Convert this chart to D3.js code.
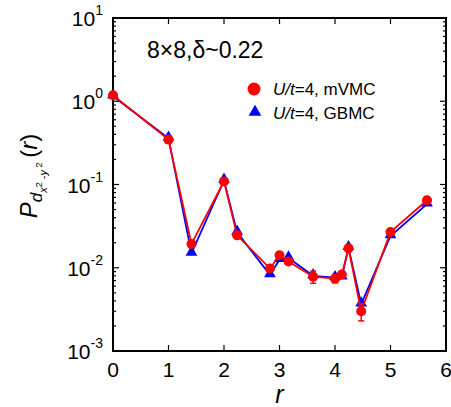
<!DOCTYPE html>
<html><head><meta charset="utf-8">
<script src="https://cdn.jsdelivr.net/npm/d3@7"></script>
<style>body{margin:0;background:#fff}svg{display:block}text{font-family:"Liberation Sans",Arial,sans-serif}</style>
</head><body><svg id="c" width="451" height="407"></svg>
<script>
const rValues = [0, 1, 1.414, 2, 2.236, 2.828, 3, 3.162, 3.606, 4, 4.123, 4.243, 4.472, 5, 5.657];
const mvmc = [1.18, 0.346, 0.0193, 0.109, 0.0245, 0.0098, 0.0141, 0.0119, 0.0078, 0.0074, 0.0083, 0.0171, 0.0030, 0.0269, 0.0647];
const mvmcErr = [0, 0, 0, 0, 0, 0, 0, 0, 0.0013, 0.0008, 0.0006, 0, 0.0007, 0, 0];
const gbmc = [1.15, 0.36, 0.0149, 0.112, 0.0266, 0.0082, 0.0125, 0.0131, 0.0080, 0.0076, 0.0077, 0.0174, 0.00366, 0.0241, 0.058];
const xTicks = [0, 1, 2, 3, 4, 5, 6];
const yExps = [1, 0, -1, -2, -3];
const seriesNames = ["mVMC", "GBMC"];

const svg = d3.select("#c");
const L = 113, R = 446, T = 18, B = 351;
const x = d3.scaleLinear().domain([0, 6]).range([L, R]);
const y = d3.scaleLog().domain([1e-3, 10]).range([B, T]);

svg.append("rect").attr("x", L).attr("y", T).attr("width", R - L).attr("height", B - T)
  .attr("fill", "none").attr("stroke", "#000").attr("stroke-width", 2);

const minor = [];
for (let e = -3; e < 1; e++) for (let k = 2; k <= 9; k++) minor.push(k * Math.pow(10, e));
const g = svg.append("g").attr("stroke", "#000").attr("stroke-width", 1.2);
minor.forEach(v => {
  g.append("line").attr("x1", L).attr("x2", L + 3).attr("y1", y(v)).attr("y2", y(v));
  g.append("line").attr("x1", R).attr("x2", R - 3).attr("y1", y(v)).attr("y2", y(v));
});
yExps.forEach(e => {
  const v = Math.pow(10, e);
  g.append("line").attr("x1", L).attr("x2", L + 6).attr("y1", y(v)).attr("y2", y(v));
  g.append("line").attr("x1", R).attr("x2", R - 6).attr("y1", y(v)).attr("y2", y(v));
  const t = svg.append("text").attr("x", L - 10).attr("y", y(v) + 8).attr("text-anchor", "end")
    .attr("font-size", 21);
  t.append("tspan").text("10");
  t.append("tspan").attr("font-size", 14).attr("dy", -11).text(e);
});
xTicks.forEach(v => {
  g.append("line").attr("x1", x(v)).attr("x2", x(v)).attr("y1", B).attr("y2", B - 6);
  g.append("line").attr("x1", x(v)).attr("x2", x(v)).attr("y1", T).attr("y2", T + 6);
  svg.append("text").attr("x", x(v)).attr("y", B + 26).attr("text-anchor", "middle")
    .attr("font-size", 21).text(v);
});

svg.append("text").attr("x", x(3)).attr("y", 403).attr("text-anchor", "middle")
  .attr("font-size", 25).attr("font-style", "italic").text("r");
const yl = svg.append("text").attr("transform", "translate(37,176) rotate(-90)")
  .attr("text-anchor", "middle").attr("font-size", 24);
yl.append("tspan").attr("font-style", "italic").text("P");
yl.append("tspan").attr("font-size", 17).attr("dy", 5).attr("font-style", "italic").text("d");
yl.append("tspan").attr("font-size", 11).attr("dy", 5).attr("font-style", "italic").text("x");
yl.append("tspan").attr("font-size", 9).attr("dy", -5).text("2");
yl.append("tspan").attr("font-size", 11).attr("dy", 5).text(" -");
yl.append("tspan").attr("font-size", 11).attr("font-style", "italic").text("y");
yl.append("tspan").attr("font-size", 9).attr("dy", -5).text(" 2");
yl.append("tspan").attr("font-size", 24).attr("dy", -5).text("\u2009(");
yl.append("tspan").attr("font-style", "italic").text("r");
yl.append("tspan").text(")");

svg.append("text").attr("x", 147).attr("y", 58).attr("font-size", 23).text("8\u00d78,\u03b4~0.22");

const line = d3.line().x(d => x(d[0])).y(d => y(d[1]));
const blueData = rValues.map((r, i) => [r, gbmc[i]]);
const redData = rValues.map((r, i) => [r, mvmc[i]]);
svg.append("path").datum(blueData).attr("d", line).attr("fill", "none").attr("stroke", "#0000ff").attr("stroke-width", 1.8);
const tri = d3.symbol().type(d3.symbolTriangle).size(60);
svg.selectAll(".tri").data(blueData).enter().append("path")
  .attr("transform", d => `translate(${x(d[0])},${y(d[1]) - 1})`).attr("d", tri).attr("fill", "#0000ff");
svg.append("path").datum(redData).attr("d", line).attr("fill", "none").attr("stroke", "#ff0000").attr("stroke-width", 1.8);
rValues.forEach((r, i) => {
  if (mvmcErr[i] > 0) {
    const y1 = y(mvmc[i] - mvmcErr[i]), y2 = y(mvmc[i] + mvmcErr[i]);
    svg.append("line").attr("x1", x(r)).attr("x2", x(r)).attr("y1", y1).attr("y2", y2).attr("stroke", "#ff0000").attr("stroke-width", 1.5);
    [y1, y2].forEach(yy => svg.append("line").attr("x1", x(r) - 3).attr("x2", x(r) + 3).attr("y1", yy).attr("y2", yy).attr("stroke", "#ff0000").attr("stroke-width", 1.5));
  }
});
svg.selectAll(".circ").data(redData).enter().append("circle")
  .attr("cx", d => x(d[0])).attr("cy", d => y(d[1])).attr("r", 5).attr("fill", "#ff0000");

svg.append("circle").attr("cx", 254).attr("cy", 89).attr("r", 6.5).attr("fill", "#ff0000");
svg.append("path").attr("transform", "translate(255,112)").attr("d", d3.symbol().type(d3.symbolTriangle).size(70)).attr("fill", "#0000ff");
[[95, seriesNames[0]], [119, seriesNames[1]]].forEach(([yy, name]) => {
  const t = svg.append("text").attr("x", 273).attr("y", yy).attr("font-size", 17);
  t.append("tspan").attr("font-style", "italic").text("U/t");
  t.append("tspan").text("=4, " + name);
});
</script></body></html>
